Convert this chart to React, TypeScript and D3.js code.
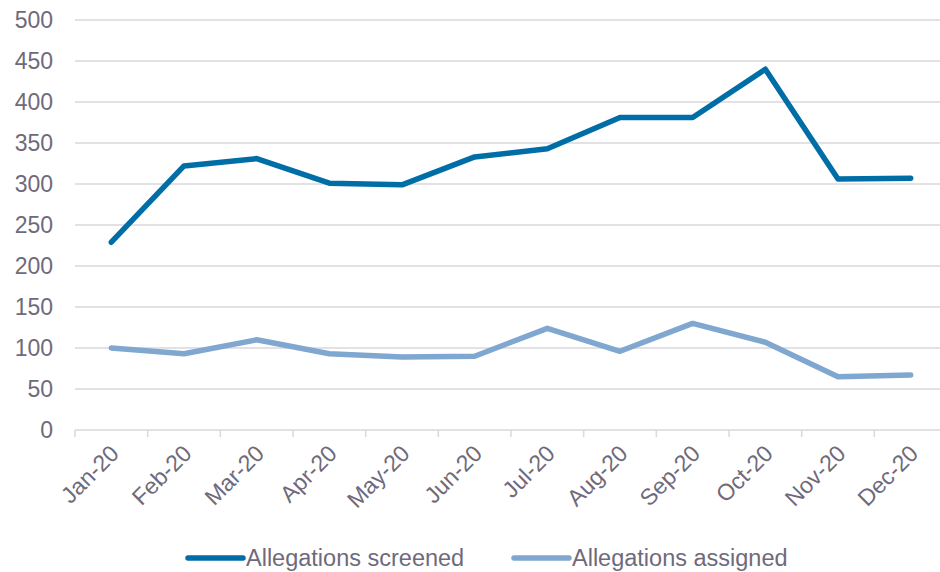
import * as d3 from "d3";
import { useEffect, useRef } from "react";

const months = ["Jan-20", "Feb-20", "Mar-20", "Apr-20", "May-20", "Jun-20", "Jul-20", "Aug-20", "Sep-20", "Oct-20", "Nov-20", "Dec-20"];
const screened = [229, 322, 331, 301, 299, 333, 343, 381, 381, 440, 306, 307];
const assigned = [100, 93, 110, 93, 89, 90, 124, 96, 130, 107, 65, 67];
const yTicks = [0, 50, 100, 150, 200, 250, 300, 350, 400, 450, 500];

const seriesList = [
  { name: "Allegations screened", values: screened, color: "#006ea6" },
  { name: "Allegations assigned", values: assigned, color: "#7fa7d0" },
];

const W = 940;
const H = 572;
const dims = { left: 75, right: 947, top: 20, bottom: 430 };
const textColor = "#6f6a7b";
const gridColor = "#d9d9de";
const font = "'Liberation Sans', Arial, sans-serif";

export default function App() {
  const ref = useRef<SVGSVGElement>(null);

  useEffect(() => {
    const svg = d3.select(ref.current);
    svg.selectAll("*").remove();

    const x = d3.scaleBand().domain(months).range([dims.left, dims.right]);
    const y = d3.scaleLinear().domain([0, 500]).range([dims.bottom, dims.top]);

    // gridlines
    svg
      .selectAll(".grid")
      .data(yTicks.filter((t) => t > 0))
      .enter()
      .append("line")
      .attr("x1", dims.left)
      .attr("x2", dims.right)
      .attr("y1", (d) => y(d))
      .attr("y2", (d) => y(d))
      .attr("stroke", gridColor)
      .attr("stroke-width", 1.5);

    // y labels
    svg
      .selectAll(".ylab")
      .data(yTicks)
      .enter()
      .append("text")
      .attr("x", 53)
      .attr("y", (d) => y(d) + 8)
      .attr("text-anchor", "end")
      .attr("fill", textColor)
      .style("font-family", font)
      .style("font-size", "23px")
      .text((d) => d);

    // x axis line + ticks
    svg
      .append("line")
      .attr("x1", dims.left)
      .attr("x2", dims.right)
      .attr("y1", dims.bottom)
      .attr("y2", dims.bottom)
      .attr("stroke", gridColor)
      .attr("stroke-width", 1.5);

    const tickXs = months.map((m) => x(m) as number);
    svg
      .selectAll(".xtick")
      .data(tickXs)
      .enter()
      .append("line")
      .attr("x1", (d) => d)
      .attr("x2", (d) => d)
      .attr("y1", dims.bottom)
      .attr("y2", dims.bottom + 7)
      .attr("stroke", gridColor)
      .attr("stroke-width", 1.5);

    // x labels
    svg
      .selectAll(".xlab")
      .data(months)
      .enter()
      .append("text")
      .attr("transform", (d) => {
        const cx = (x(d) as number) + x.bandwidth() / 2 + 9;
        return `translate(${cx},${dims.bottom + 25}) rotate(-45)`;
      })
      .attr("text-anchor", "end")
      .attr("fill", textColor)
      .style("font-family", font)
      .style("font-size", "23px")
      .text((d) => d);

    // lines
    const line = d3
      .line<number>()
      .x((d, i) => (x(months[i]) as number) + x.bandwidth() / 2)
      .y((d) => y(d));

    seriesList.forEach((s) => {
      svg
        .append("path")
        .datum(s.values)
        .attr("d", line)
        .attr("fill", "none")
        .attr("stroke", s.color)
        .attr("stroke-width", 5.5)
        .attr("stroke-linejoin", "round")
        .attr("stroke-linecap", "round");
    });

    // legend
    const legendX = [188, 514];
    seriesList.forEach((s, i) => {
      const g = svg.append("g").attr("transform", `translate(${legendX[i]},558)`);
      g.append("line")
        .attr("x1", 0)
        .attr("x2", 55)
        .attr("stroke", s.color)
        .attr("stroke-width", 5.5)
        .attr("stroke-linecap", "round");
      g.append("text")
        .attr("x", 58)
        .attr("y", 8)
        .attr("fill", textColor)
        .style("font-family", font)
        .style("font-size", "23.5px")
        .text(s.name);
    });
  }, []);

  return (
    <div style={{ position: "absolute", left: 0, top: 0 }}>
      <svg ref={ref} width={W} height={H} style={{ display: "block", background: "#fff" }}></svg>
    </div>
  );
}
